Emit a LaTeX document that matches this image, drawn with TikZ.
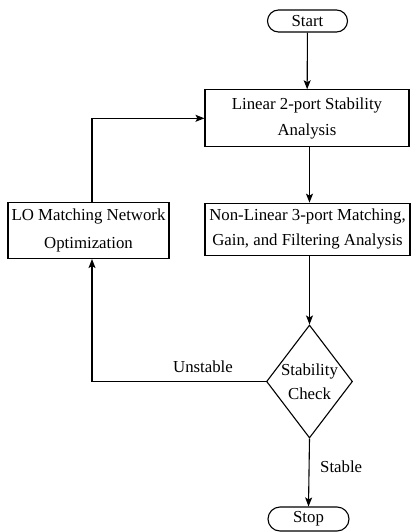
\documentclass[tikz,border=0pt]{standalone}
\usepackage{fontspec}
\setmainfont{Liberation Serif}
\usetikzlibrary{shapes.misc,shapes.geometric,arrows.meta}
\begin{document}
\begin{tikzpicture}[x=1pt,y=-1pt,
  every node/.style={font=\fontsize{16.8}{25}\selectfont},
  term/.style={draw,rounded rectangle,line width=1.1pt,inner sep=0pt},
  procbox/.style={draw,rectangle,line width=1.1pt,align=center,inner sep=0pt},
  decide/.style={draw,diamond,line width=1.1pt,inner sep=0pt},
  arr/.style={line width=1.1pt,-{Stealth[length=9pt,width=7pt,inset=2pt]}},
  conn/.style={line width=1.1pt}]
\useasboundingbox (0,0) rectangle (412,532);
\node[term,minimum width=80pt,minimum height=22pt] (start) at (307.5,21) {Start};
\node[procbox,minimum width=204pt,minimum height=57pt,
  font=\fontsize{16.8}{26.5}\selectfont] (b1) at (307,118.3) {Linear 2-port Stability\\Analysis};
\node[procbox,minimum width=205pt,minimum height=52pt,
  font=\fontsize{16.8}{25}\selectfont] (b2) at (307.5,229.2) {Non-Linear 3-port Matching,\\Gain, and Filtering Analysis};
\node[procbox,minimum width=161pt,minimum height=56pt,
  font=\fontsize{16.8}{28}\selectfont] (lo) at (88.5,230.5) {LO Matching Network\\Optimization};
\node[decide,minimum width=86pt,minimum height=113pt,
  label={[align=center,font=\fontsize{16.8}{24.5}\selectfont]center:Stability\\Check}] (chk) at (309.5,381.5) {};
\node[term,minimum width=81pt,minimum height=24pt] (stop) at (308.5,519) {Stop};
\coordinate (fb) at (92,0);
\draw[arr] (start) -- (b1);
\draw[arr] (b1.south -| chk.north) -- (b2.north -| chk.north);
\draw[arr] (b2.south -| chk.north) -- (chk.north);
\draw[arr] (chk.south) -- (stop.north);
\draw[arr] (chk.west) -- (chk.west -| fb) -- (fb |- lo.south);
\draw[arr] (fb |- lo.north) |- (b1.west);
\node[anchor=base] (unst) at (203,372.7) {Unstable};
\node[anchor=base west,inner sep=0pt] (stab) at (320,472.3) {Stable};
\end{tikzpicture}
\end{document}
